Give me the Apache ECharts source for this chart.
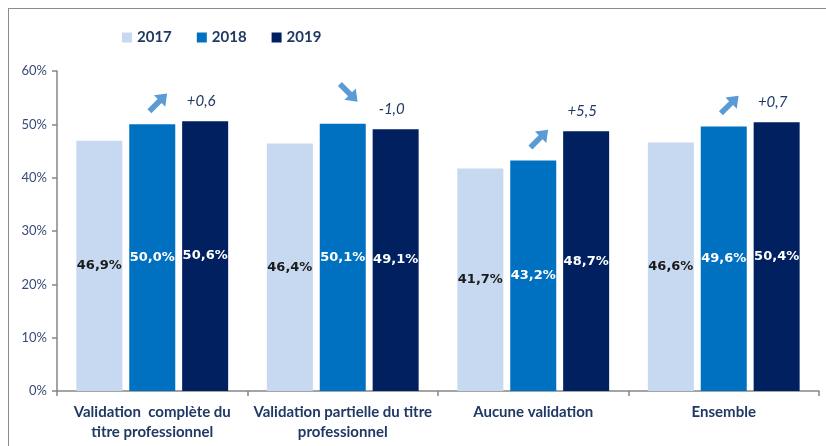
<!DOCTYPE html>
<html>
<head>
<meta charset="utf-8">
<script src="https://cdn.jsdelivr.net/npm/echarts@6/dist/echarts.min.js"></script>
<style>
  html, body { margin: 0; padding: 0; background: #fff; overflow: hidden; }
  .frame {
    position: absolute; left: 8px; top: 8px; width: 840px; height: 460px;
    border: 1.5px solid #8c8c8c; box-sizing: border-box;
  }
  #chart { position: absolute; left: 0; top: 0; width: 826px; height: 446px; }
</style>
</head>
<body>
<div class="frame"></div>
<div id="chart"></div>
<script>
const categories = [
  'Validation  complète du\ntitre professionnel',
  'Validation partielle du titre\nprofessionnel',
  'Aucune validation',
  'Ensemble'
]
const years = ['2017', '2018', '2019']
const values2017 = [46.9, 46.4, 41.7, 46.6]
const values2018 = [50.0, 50.1, 43.2, 49.6]
const values2019 = [50.6, 49.1, 48.7, 50.4]
const deltas = ['+0,6', '-1,0', '+5,5', '+0,7']   // 2019 vs 2018, in points
const yTicks = [0, 10, 20, 30, 40, 50, 60]

const colors = ['#C6D9F0', '#0070C0', '#002060']
const navy = '#1F3864'
const arrowPath = 'path://M10,0 L20,11 L13.5,11 L13.5,26 L6.5,26 L6.5,11 L0,11 Z'

const chart = echarts.init(document.getElementById('chart'))

function fmt(v) {
  return v.toFixed(1).replace('.', ',') + '%'
}

function barSeries(name, data, color, labelColor) {
  return {
    name,
    type: 'bar',
    data,
    barWidth: 46,
    barGap: '15%',
    itemStyle: { color },
    label: {
      show: true,
      position: 'inside',
      formatter: (p) => fmt(p.value),
      color: labelColor,
      fontFamily: 'DejaVu Sans',
      fontWeight: 'bold',
      fontSize: 13,
    },
  }
}

const s2017 = barSeries(years[0], values2017, colors[0], '#1a1a1a')
const s2018 = barSeries(years[1], values2018, colors[1], '#fff')
const s2019 = barSeries(years[2], values2019, colors[2], '#fff')

// trend arrows above the 2018 bars
s2018.markPoint = {
  silent: true,
  symbol: arrowPath,
  symbolSize: [16, 25],
  label: { show: false },
  itemStyle: { color: '#5B9BD5' },
  data: deltas.map((d, i) => {
    const down = d.startsWith('-')
    return {
      coord: [i, values2018[i]],
      symbolRotate: down ? -135 : -45,
      symbolOffset: [6, down ? -31 : -22],
    }
  }),
}

// delta text above the 2019 bars
s2019.markPoint = {
  silent: true,
  symbol: 'rect',
  symbolSize: 0,
  label: {
    show: true,
    formatter: (p) => p.name,
    color: navy,
    fontFamily: 'Lato',
    fontStyle: 'italic',
    fontSize: 15,
    offset: [-4, -20],
  },
  data: deltas.map((d, i) => ({ name: d, coord: [i, values2019[i]] })),
}

chart.setOption({
  animation: false,
  color: colors,
  legend: {
    left: 117,
    top: 25,
    itemWidth: 10,
    itemHeight: 10,
    itemGap: 25,
    icon: 'rect',
    textStyle: { color: navy, fontFamily: 'Lato', fontWeight: 'bold', fontSize: 15 },
    data: years,
  },
  grid: { left: 57, right: 7, top: 71, bottom: 55 },
  xAxis: {
    type: 'category',
    data: categories,
    axisLine: { lineStyle: { color: '#868686', width: 1.5 } },
    axisTick: { show: true, length: 5, lineStyle: { color: '#868686', width: 1.5 } },
    axisLabel: {
      color: navy,
      fontFamily: 'Lato',
      fontWeight: 'bold',
      fontSize: 15,
      lineHeight: 20,
      margin: 11,
      interval: 0,
    },
  },
  yAxis: {
    type: 'value',
    min: yTicks[0],
    max: yTicks[yTicks.length - 1],
    interval: 10,
    axisLine: { show: true, lineStyle: { color: '#868686', width: 1.5 } },
    axisTick: { show: true, length: 5, lineStyle: { color: '#868686', width: 1.5 } },
    splitLine: { show: false },
    axisLabel: {
      formatter: '{value}%',
      color: '#3A4A78',
      fontFamily: 'Lato',
      fontSize: 13,
      margin: 10,
    },
  },
  series: [s2017, s2018, s2019],
})
</script>
</body>
</html>
